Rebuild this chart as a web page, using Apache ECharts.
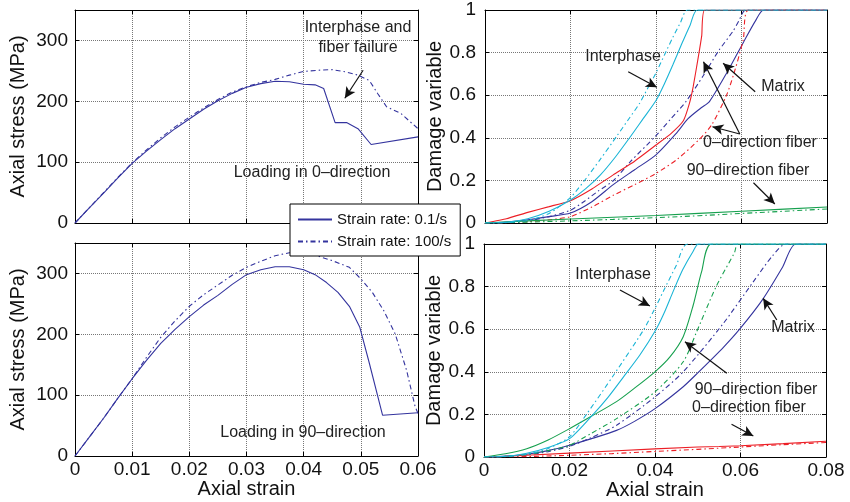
<!DOCTYPE html>
<html><head><meta charset="utf-8">
<script src="https://cdn.jsdelivr.net/npm/echarts@6/dist/echarts.min.js"></script>
<style>html,body{margin:0;padding:0;background:#fff}#c{width:850px;height:502px}</style>
</head><body><div id="c"></div><script>
// ---------- Top-left: stress-strain, loading in 0-direction ----------
const tlStrainSlow = [0,0.0025,0.005,0.0075,0.01,0.0125,0.015,0.0175,0.02,0.0225,0.025,0.0275,0.03,0.0325,0.035,0.0375,0.04,0.042,0.0435,0.0455,0.0475,0.0495,0.0518,0.06];
const tlStressSlow = [0,25,49,74,98,118,137,155,171,187,201,213,223,229,233,232,228,227,221,165,165,155,129,141.5];
const tlStrainFast = [0,0.0025,0.005,0.0075,0.01,0.0125,0.015,0.0175,0.02,0.0225,0.025,0.0275,0.03,0.0325,0.035,0.0375,0.04,0.0425,0.045,0.0475,0.0495,0.0515,0.053,0.0545,0.057,0.06];
const tlStressFast = [0,25,50,75,99,120,140,158,174,189,203,215,224,231,236,243,249,251,252,248,243,234,212,191,180,155];
// ---------- Bottom-left: stress-strain, loading in 90-direction ----------
const blStrainSlow = [0,0.0025,0.005,0.0075,0.01,0.0125,0.015,0.0175,0.02,0.0225,0.025,0.0275,0.03,0.0325,0.035,0.0375,0.04,0.042,0.044,0.046,0.048,0.0498,0.0515,0.0538,0.06];
const blStressSlow = [0,31,62,95,127,157,185,208,229,248,264,282,298,306,311,311,306,298,285,269,246,212,152,67,71];
const blStrainFast = [0,0.0025,0.005,0.0075,0.01,0.0125,0.015,0.0175,0.02,0.0225,0.025,0.0275,0.03,0.0325,0.035,0.0375,0.04,0.042,0.045,0.048,0.05,0.052,0.054,0.056,0.058,0.0595,0.06];
const blStressFast = [0,31,62,95,127,162,195,222,246,265,281,297,310,320,329,334,333,330,321,310,291,269,239,201,141,81,70];
// ---------- Top-right: damage variables, loading in 0-direction ----------
const trInterSlowX = [0,0.005,0.01,0.015,0.02,0.0235,0.027,0.0305,0.034,0.037,0.04,0.042,0.044,0.046,0.048,0.0497,0.08];
const trInterSlowY = [0,0.003,0.02,0.055,0.108,0.16,0.226,0.31,0.405,0.49,0.575,0.655,0.745,0.84,0.93,1,1];
const trInterFastX = [0,0.005,0.01,0.015,0.02,0.0231,0.027,0.0309,0.0335,0.0361,0.038,0.04,0.042,0.0439,0.0457,0.0474,0.08];
const trInterFastY = [0,0.002,0.012,0.045,0.12,0.195,0.3,0.41,0.485,0.56,0.63,0.705,0.79,0.87,0.94,1,1];
const trFib0SlowX = [0,0.005,0.01,0.015,0.02,0.025,0.03,0.035,0.04,0.0435,0.0464,0.0478,0.0487,0.0499,0.0507,0.0514,0.08];
const trFib0SlowY = [0,0.02,0.05,0.077,0.105,0.16,0.226,0.29,0.366,0.42,0.48,0.56,0.64,0.78,0.88,1,1];
const trFib0FastX = [0,0.005,0.01,0.015,0.02,0.025,0.03,0.035,0.04,0.045,0.05,0.053,0.0565,0.0585,0.0604,0.0617,0.08];
const trFib0FastY = [0,0.001,0.006,0.015,0.03,0.075,0.13,0.18,0.233,0.3,0.39,0.46,0.6,0.72,0.86,1,1];
const trMatrixSlowX = [0,0.005,0.01,0.015,0.02,0.025,0.03,0.035,0.04,0.0447,0.0475,0.0505,0.0525,0.0567,0.0605,0.0633,0.0652,0.08];
const trMatrixSlowY = [0,0.005,0.015,0.03,0.047,0.1,0.18,0.25,0.32,0.42,0.49,0.54,0.57,0.71,0.85,0.95,1,1];
const trMatrixFastX = [0,0.005,0.01,0.015,0.02,0.0231,0.0265,0.0302,0.034,0.04,0.0435,0.047,0.051,0.0547,0.058,0.0594,0.061,0.08];
const trMatrixFastY = [0,0.002,0.01,0.03,0.06,0.1,0.15,0.202,0.288,0.41,0.49,0.57,0.69,0.81,0.9,0.95,1,1];
const trFib90X = [0,0.01,0.02,0.03,0.04,0.05,0.06,0.07,0.08];
const trFib90SlowY = [0,0.01,0.019,0.027,0.035,0.045,0.055,0.065,0.075];
const trFib90FastY = [0,0.004,0.01,0.017,0.025,0.034,0.045,0.055,0.066];
// ---------- Bottom-right: damage variables, loading in 90-direction ----------
const brInterSlowX = [0,0.005,0.01,0.015,0.02,0.0257,0.029,0.0326,0.0365,0.04,0.042,0.0443,0.0465,0.0489,0.0502,0.08];
const brInterSlowY = [0,0.003,0.018,0.045,0.086,0.204,0.28,0.375,0.48,0.59,0.67,0.78,0.88,0.965,1,1];
const brInterFastX = [0,0.005,0.01,0.015,0.02,0.0241,0.0303,0.0373,0.0398,0.042,0.045,0.0476,0.08];
const brInterFastY = [0,0.002,0.012,0.04,0.095,0.204,0.384,0.596,0.69,0.78,0.9,1,1];
const brFib90SlowX = [0,0.005,0.01,0.015,0.02,0.025,0.031,0.035,0.04,0.0435,0.0466,0.0489,0.0509,0.0532,0.08];
const brFib90SlowY = [0,0.015,0.039,0.08,0.133,0.19,0.26,0.32,0.4,0.47,0.565,0.71,0.87,1,1];
const brFib90FastX = [0,0.005,0.01,0.015,0.02,0.025,0.031,0.04,0.0466,0.0497,0.0543,0.0586,0.0594,0.08];
const brFib90FastY = [0,0.003,0.012,0.03,0.055,0.11,0.18,0.306,0.447,0.586,0.8,0.96,1,1];
const brMatrixSlowX = [0,0.005,0.01,0.015,0.02,0.025,0.031,0.035,0.04,0.0466,0.05,0.056,0.0598,0.0652,0.0698,0.0729,0.08];
const brMatrixSlowY = [0,0.004,0.013,0.03,0.055,0.085,0.125,0.165,0.227,0.33,0.395,0.515,0.6,0.74,0.89,1,1];
const brMatrixFastX = [0,0.005,0.01,0.015,0.02,0.025,0.031,0.04,0.0466,0.0559,0.0629,0.0675,0.0706,0.08];
const brMatrixFastY = [0,0.002,0.01,0.025,0.05,0.09,0.149,0.282,0.4,0.625,0.82,0.945,1,1];
const brFib0SlowX = [0,0.005,0.01,0.02,0.03,0.04,0.05,0.055,0.06,0.07,0.08];
const brFib0SlowY = [0,0.003,0.008,0.018,0.028,0.038,0.047,0.049,0.053,0.063,0.074];
const brFib0FastX = [0,0.01,0.02,0.03,0.04,0.05,0.06,0.07,0.08];
const brFib0FastY = [0,0.002,0.008,0.016,0.026,0.036,0.047,0.058,0.068];
// ---------- Annotation arrows (data coordinates: [x1,y1,x2,y2], arrow at end) ----------
const tlArrows = [[0.0504,251,0.0472,205]];
const trArrows = [[0.0335,0.71,0.0402,0.637],[0.0632,0.616,0.0557,0.75],[0.0596,0.418,0.0511,0.757],[0.0596,0.418,0.0532,0.452],[0.0628,0.189,0.0678,0.089]];
const brArrows = [[0.0318,0.784,0.0388,0.709],[0.0685,0.643,0.0653,0.745],[0.0568,0.393,0.047,0.541],[0.0579,0.154,0.063,0.099]];
// ---------- Text ----------
const legendNames = ['Strain rate: 0.1/s','Strain rate: 100/s'];

const FONT = "'Liberation Sans', Arial, Helvetica, sans-serif";
const BLUE = '#34349e', RED = '#ec1f26', CYAN = '#1ab4d6', GREEN = '#16a04e';
const DASHDOT = [5,3,1.5,3];

function zip(xs, ys){ return xs.map((x,i)=>[x, ys[i]]); }
function line(name, xs, ys, color, dashed, gi, smooth){
  return {
    type:'line', name, xAxisIndex:gi, yAxisIndex:gi, data:zip(xs,ys),
    symbol:'none', showSymbol:false, smooth: smooth||false,
    clip:true, animation:false, z:3,
    lineStyle:{color, width:1.1, type: dashed ? DASHDOT : 'solid'},
    itemStyle:{color}
  };
}
function arrows(list){
  return {
    silent:true, animation:false, symbolSize:[8,11],
    lineStyle:{color:'#111', type:'solid', width:1.2},
    label:{show:false},
    data:list.map(a=>[{coord:[a[0],a[1]], symbol:'none'},{coord:[a[2],a[3]], symbol:'arrow'}])
  };
}
const grids = [
  {left:75, top:10, width:343, height:213},
  {left:485, top:10, width:342, height:213},
  {left:75, top:243, width:343, height:213},
  {left:484, top:244, width:342, height:213}
];
const axisLineS = {show:true, onZero:false, lineStyle:{color:'#000', width:1}};
const tickS = {show:true, inside:true, length:4, lineStyle:{color:'#000'}};
const splitS = {show:true, lineStyle:{type:'dotted', color:'#777', width:1}};
function fmtX(v){ return v===0 ? '0' : v.toFixed(2); }
function fmtYR(v){ return (v===0||v===1) ? String(v) : v.toFixed(1); }

const xAxes = [], yAxes = [];
const spec = [
  {xmax:0.06, xint:0.01, ymax:350, yint:100, showX:false, yname:'Axial stress (MPa)', yfmt:null, gap:47, margin:7},
  {xmax:0.08, xint:0.02, ymax:1, yint:0.2, showX:false, yname:'Damage variable', yfmt:fmtYR, gap:37, margin:9},
  {xmax:0.06, xint:0.01, ymax:350, yint:100, showX:true, yname:'Axial stress (MPa)', yfmt:null, gap:47, margin:7},
  {xmax:0.08, xint:0.02, ymax:1, yint:0.2, showX:true, yname:'Damage variable', yfmt:fmtYR, gap:37, margin:9}
];
spec.forEach((s,gi)=>{
  xAxes.push({type:'value', gridIndex:gi, min:0, max:s.xmax, interval:s.xint, position:'bottom',
    axisLine:axisLineS, axisTick:tickS, splitLine:splitS,
    axisLabel:{show:s.showX, fontSize:19, color:'#111', fontFamily:FONT, margin:4, formatter:fmtX, showMaxLabel:true},
    name:s.showX?'Axial strain':'', nameLocation:'middle', nameGap:21,
    nameTextStyle:{fontSize:20, color:'#111', fontFamily:FONT}});
  yAxes.push({type:'value', gridIndex:gi, min:0, max:s.ymax, interval:s.yint, position:'left',
    axisLine:axisLineS, axisTick:tickS, splitLine:splitS,
    axisLabel:{show:true, fontSize:19, color:'#111', fontFamily:FONT, margin:s.margin,
      formatter:s.yfmt||undefined, showMaxLabel: s.ymax===1},
    name:s.yname, nameLocation:'middle', nameGap:s.gap,
    nameTextStyle:{fontSize:20, color:'#111', fontFamily:FONT}});
});
spec.forEach((s,gi)=>{
  xAxes.push({type:'value', gridIndex:gi, min:0, max:s.xmax, interval:s.xint, position:'top',
    axisLine:axisLineS, axisTick:tickS, splitLine:{show:false}, axisLabel:{show:false}});
  yAxes.push({type:'value', gridIndex:gi, min:0, max:s.ymax, interval:s.yint, position:'right',
    axisLine:axisLineS, axisTick:tickS, splitLine:{show:false}, axisLabel:{show:false}});
});

const series = [];
const tlSlow = line(legendNames[0], tlStrainSlow, tlStressSlow, BLUE, false, 0);
tlSlow.markLine = arrows(tlArrows);
series.push(tlSlow, line(legendNames[1], tlStrainFast, tlStressFast, BLUE, true, 0));
series.push(line(legendNames[0], blStrainSlow, blStressSlow, BLUE, false, 2),
            line(legendNames[1], blStrainFast, blStressFast, BLUE, true, 2));
const sm = 0.25;
const trG = line('tr-fib90-slow', trFib90X, trFib90SlowY, GREEN, false, 1);
trG.markLine = arrows(trArrows);
series.push(
  line('tr-matrix-slow', trMatrixSlowX, trMatrixSlowY, BLUE, false, 1, sm),
  line('tr-matrix-fast', trMatrixFastX, trMatrixFastY, BLUE, true, 1, sm),
  line('tr-fib0-slow', trFib0SlowX, trFib0SlowY, RED, false, 1, 0.15),
  line('tr-fib0-fast', trFib0FastX, trFib0FastY, RED, true, 1, sm),
  trG,
  line('tr-fib90-fast', trFib90X, trFib90FastY, GREEN, true, 1),
  line('tr-inter-slow', trInterSlowX, trInterSlowY, CYAN, false, 1, sm),
  line('tr-inter-fast', trInterFastX, trInterFastY, CYAN, true, 1, sm)
);
const brR = line('br-fib0-slow', brFib0SlowX, brFib0SlowY, RED, false, 3);
brR.markLine = arrows(brArrows);
series.push(
  line('br-matrix-slow', brMatrixSlowX, brMatrixSlowY, BLUE, false, 3, sm),
  line('br-matrix-fast', brMatrixFastX, brMatrixFastY, BLUE, true, 3, sm),
  brR,
  line('br-fib0-fast', brFib0FastX, brFib0FastY, RED, true, 3),
  line('br-fib90-slow', brFib90SlowX, brFib90SlowY, GREEN, false, 3, sm),
  line('br-fib90-fast', brFib90FastX, brFib90FastY, GREEN, true, 3, sm),
  line('br-inter-slow', brInterSlowX, brInterSlowY, CYAN, false, 3, sm),
  line('br-inter-fast', brInterFastX, brInterFastY, CYAN, true, 3, sm)
);

function txt(text, x, y){
  return {type:'text', x, y, z:10, silent:true,
    style:{text, fontSize:16, fontFamily:FONT, fill:'#222', align:'center', verticalAlign:'middle'}};
}
const graphics = [
  txt('Interphase and', 358, 28), txt('fiber failure', 358, 48),
  txt('Loading in 0\u2013direction', 312, 173),
  txt('Loading in 90\u2013direction', 303, 433),
  txt('Interphase', 623, 57), txt('Matrix', 783, 87),
  txt('0\u2013direction fiber', 760, 143), txt('90\u2013direction fiber', 748, 171),
  txt('Interphase', 613, 275), txt('Matrix', 793, 328),
  txt('90\u2013direction fiber', 756, 390), txt('0\u2013direction fiber', 749, 408)
];

const chart = echarts.init(document.getElementById('c'), null, {renderer:'canvas'});
chart.setOption({
  animation:false,
  backgroundColor:'#fff',
  textStyle:{fontFamily:FONT},
  grid:grids,
  xAxis:xAxes, yAxis:yAxes,
  legend:{show:true, data:legendNames, left:290, top:204, orient:'vertical',
    itemWidth:34, itemHeight:14, itemGap:7, padding:[8,9,7,7],
    borderColor:'#000', borderWidth:1, backgroundColor:'#fff', selectedMode:false, z:20,
    itemStyle:{opacity:0},
    textStyle:{fontSize:15, color:'#111', fontFamily:FONT}},
  series,
  graphic:graphics
});
</script></body></html>
